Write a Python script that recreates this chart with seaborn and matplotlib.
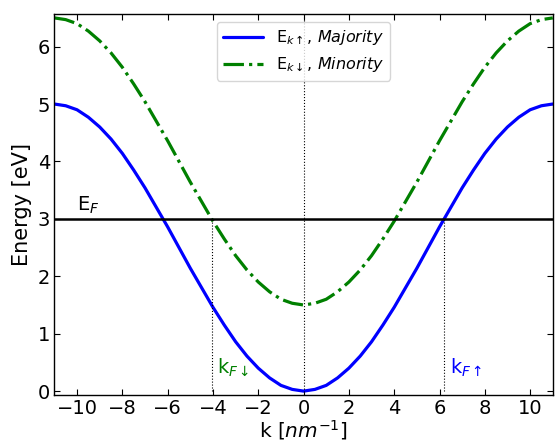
import numpy as np
import pandas as pd
import matplotlib
matplotlib.use('Agg')
import matplotlib.pyplot as plt
import seaborn as sns

# wave vector samples [nm^-1]
k = [-11.0, -10.5, -10.0, -9.5, -9.0, -8.5, -8.0, -7.5, -7.0, -6.5, -6.0, -5.5,
     -5.0, -4.5, -4.0, -3.5, -3.0, -2.5, -2.0, -1.5, -1.0, -0.5, 0.0,
     0.5, 1.0, 1.5, 2.0, 2.5, 3.0, 3.5, 4.0, 4.5, 5.0, 5.5,
     6.0, 6.5, 7.0, 7.5, 8.0, 8.5, 9.0, 9.5, 10.0, 10.5, 11.0]

# band energies [eV]
e_major = [5.00, 4.97, 4.90, 4.77, 4.60, 4.39, 4.14, 3.85, 3.54, 3.20, 2.86, 2.50,
           2.14, 1.80, 1.46, 1.15, 0.86, 0.61, 0.40, 0.23, 0.10, 0.03, 0.00,
           0.03, 0.10, 0.23, 0.40, 0.61, 0.86, 1.15, 1.46, 1.80, 2.14, 2.50,
           2.86, 3.20, 3.54, 3.85, 4.14, 4.39, 4.60, 4.77, 4.90, 4.97, 5.00]
e_minor = [6.50, 6.47, 6.40, 6.27, 6.10, 5.89, 5.64, 5.35, 5.04, 4.70, 4.36, 4.00,
           3.64, 3.30, 2.96, 2.65, 2.36, 2.11, 1.90, 1.73, 1.60, 1.53, 1.50,
           1.53, 1.60, 1.73, 1.90, 2.11, 2.36, 2.65, 2.96, 3.30, 3.64, 4.00,
           4.36, 4.70, 5.04, 5.35, 5.64, 5.89, 6.10, 6.27, 6.40, 6.47, 6.50]

e_fermi = 3.0
kf_up = 6.2
kf_down = -4.06

df = pd.DataFrame({'k': k, 'maj': e_major, 'min': e_minor})

sns.set_style('ticks', {'axes.edgecolor': 'black', 'text.color': 'black',
                        'axes.labelcolor': 'black', 'xtick.color': 'black',
                        'ytick.color': 'black'})
plt.rcParams['font.family'] = ['DejaVu Sans']
plt.rcParams['mathtext.fontset'] = 'dejavusans'

fig, ax = plt.subplots(figsize=(5.55, 4.48), dpi=100)

sns.lineplot(data=df, x='k', y='maj', ax=ax, color='blue', lw=2.3,
             label=r'E$_{k\uparrow}$, $Majority$')
sns.lineplot(data=df, x='k', y='min', ax=ax, color='green', lw=2.3,
             linestyle='-.', label=r'E$_{k\downarrow}$, $Minority$')

ax.axhline(e_fermi, color='black', lw=1.8)
ax.axvline(0, color='black', lw=0.8, ls=':')
ax.vlines([kf_down, kf_up], 0, e_fermi, colors='black', lw=0.8, ls=':')

ax.text(-10.0, e_fermi + 0.05, r'E$_F$', fontsize=14, va='bottom')
ax.text(kf_down + 0.25, 0.3, r'k$_{F\downarrow}$', fontsize=14, color='green')
ax.text(kf_up + 0.25, 0.3, r'k$_{F\uparrow}$', fontsize=14, color='blue')

ax.set_xlim(-11, 11)
ax.set_ylim(-0.07, 6.57)
ax.set_xticks(range(-10, 11, 2))
ax.set_xlabel(r'k [$nm^{-1}$]', fontsize=14.5, labelpad=0)
ax.set_ylabel('Energy [eV]', fontsize=15, labelpad=4)
ax.tick_params(direction='in', top=True, right=True, labelsize=14,
               length=4, pad=3)
for s in ax.spines.values():
    s.set_linewidth(1.0)

ax.legend(loc='upper center', fontsize=11.5, handlelength=2.5)

plt.subplots_adjust(left=0.098, right=0.996, top=0.969, bottom=0.118)
plt.savefig('out.png')
